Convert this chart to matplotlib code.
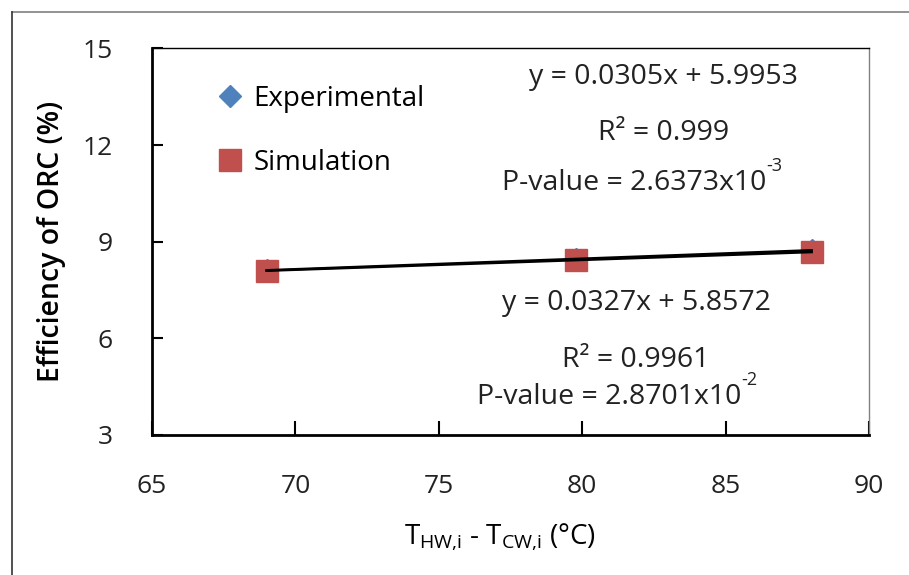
import matplotlib
matplotlib.use("Agg")
import matplotlib.pyplot as plt
from matplotlib.lines import Line2D
import numpy as np

plt.rcParams['font.family'] = ['Open Sans', 'DejaVu Sans']
plt.rcParams['mathtext.fontset'] = 'custom'
plt.rcParams['mathtext.rm'] = 'Open Sans'
plt.rcParams['mathtext.it'] = 'Open Sans'

# temperature difference between hot and cold water inlets (C)
dT = [69.0, 79.8, 88.0]
# ORC efficiency (%)
eff_exp = [8.11, 8.47, 8.74]
eff_sim = [8.10, 8.43, 8.68]

# linear trend coefficients (slope, intercept)
fit_exp = (0.0327, 5.8572)
fit_sim = (0.0305, 5.9953)

x_ticks = [65, 70, 75, 80, 85, 90]
y_ticks = [3, 6, 9, 12, 15]

fig = plt.figure(figsize=(9.09, 5.75), dpi=100)
ax = fig.add_axes([0.1672, 0.2435, 0.7888, 0.6722])

ax.plot(dT, eff_exp, linestyle='none', marker='D', markersize=11,
        color='#4F81BD', label='Experimental', zorder=3)
ax.plot(dT, eff_sim, linestyle='none', marker='s', markersize=15.5,
        color='#C0504D', label='Simulation', zorder=4)

xx = np.array([dT[0], dT[-1]])
for m, c in (fit_exp, fit_sim):
    ax.plot(xx, m * xx + c, color='black', linewidth=1.8, zorder=5)

ax.set_xlim(65, 90)
ax.set_ylim(3, 15)
ax.set_xticks(x_ticks)
ax.set_yticks(y_ticks)
ax.tick_params(axis='x', direction='in', length=10, width=1.5, pad=28,
               labelsize=19, labelcolor='#222222')
ax.tick_params(axis='y', direction='in', length=8, width=1.5, pad=28,
               labelsize=19, labelcolor='#222222')

for side in ('left', 'bottom'):
    ax.spines[side].set_linewidth(2)
    ax.spines[side].set_color('black')
ax.spines['top'].set_linewidth(1)
ax.spines['top'].set_color('black')
ax.spines['right'].set_linewidth(1)
ax.spines['right'].set_color('#808080')

ax.set_ylabel('Efficiency of ORC (%)', fontsize=20.5, fontweight='semibold',
              labelpad=12)
ax.set_xlabel(r'T$_{\mathregular{HW{,}i}}$ - T$_{\mathregular{CW{,}i}}$ (°C)',
              fontsize=20, labelpad=16)
ax.xaxis.label.set_x(0.485)

leg = ax.legend(loc='upper left', bbox_to_anchor=(0.07, 0.935), frameon=False,
                fontsize=20, handletextpad=0.25, labelspacing=1.3,
                handlelength=1.2, borderaxespad=0)

txt = dict(fontsize=20.5, ha='center', va='center', color='#222222',
           transform=ax.transAxes)
sup = dict(fontsize=13, ha='left', va='bottom', color='#222222',
           textcoords='offset points', xytext=(0.5, -4))
ax.text(0.713, 0.926, 'y = 0.0305x + 5.9953', **txt)
ax.text(0.714, 0.781, 'R² = 0.999', **txt)
p1 = ax.text(0.672, 0.652, 'P-value = 2.6373x10', **txt)
ax.annotate('-3', xy=(1, 1), xycoords=p1, **sup)
ax.text(0.676, 0.342, 'y = 0.0327x + 5.8572', **txt)
ax.text(0.675, 0.194, 'R² = 0.9961', **txt)
p2 = ax.text(0.637, 0.098, 'P-value = 2.8701x10', **txt)
ax.annotate('-2', xy=(1, 1), xycoords=p2, **sup)

# outer frame of the figure panel
fig.add_artist(Line2D([0.0132, 1.0], [0.979, 0.979], color='#808080',
                      linewidth=1.2))
fig.add_artist(Line2D([0.0132, 0.0132], [0.0, 0.979], color='#333333',
                      linewidth=1.2))

fig.savefig('out.png', dpi=100)
